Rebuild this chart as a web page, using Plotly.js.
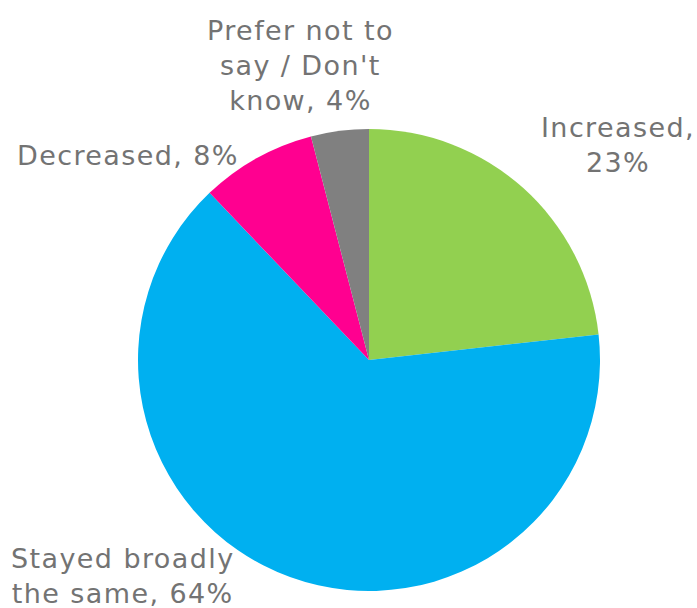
<!DOCTYPE html>
<html>
<head>
<meta charset="utf-8">
<script src="https://cdn.plot.ly/plotly-3.0.1.min.js"></script>
<style>html,body{margin:0;padding:0;background:#fff;}#chart{width:697px;height:608px;}
.annotation-text{letter-spacing:1.4px;}</style>
</head>
<body>
<div id="chart"></div>
<script>
// Data
const categories = ["Increased", "Stayed broadly the same", "Decreased", "Prefer not to say / Don't know"];
const values = [23, 64, 8, 4];
const labelTexts = ["Increased,<br>23%", "Stayed broadly<br>the same, 64%", "Decreased, 8%", "Prefer not to<br>say / Don't<br>know, 4%"];

// Styles / label placement (paper coords)
const colors = ["#92D050", "#00B0F0", "#FF0090", "#808080"];
const labelPos = [[0.886, 0.762], [0.176, 0.053], [0.184, 0.745], [0.431, 0.893]];

const W = 697, H = 608;
const cx = 369, cy = 360, r = 231;

const annotations = labelTexts.map((t, i) => ({
  text: t, xref: 'paper', yref: 'paper',
  x: labelPos[i][0], y: labelPos[i][1],
  xanchor: 'center', yanchor: 'middle', align: 'center',
  showarrow: false,
  font: {family: 'DejaVu Sans, Verdana, sans-serif', size: 27, color: '#737373'}
}));

Plotly.newPlot('chart', [{
  type: 'pie',
  labels: categories,
  values: values,
  sort: false,
  direction: 'clockwise',
  rotation: 0,
  marker: {colors: colors, line: {width: 0}},
  textinfo: 'none',
  hoverinfo: 'label+value',
  domain: {x: [(cx - r) / W, (cx + r) / W], y: [1 - (cy + r) / H, 1 - (cy - r) / H]}
}], {
  width: W, height: H,
  margin: {l: 0, r: 0, t: 0, b: 0},
  showlegend: false,
  paper_bgcolor: '#fff',
  annotations: annotations
}, {displayModeBar: false, staticPlot: true});
</script>
</body>
</html>
